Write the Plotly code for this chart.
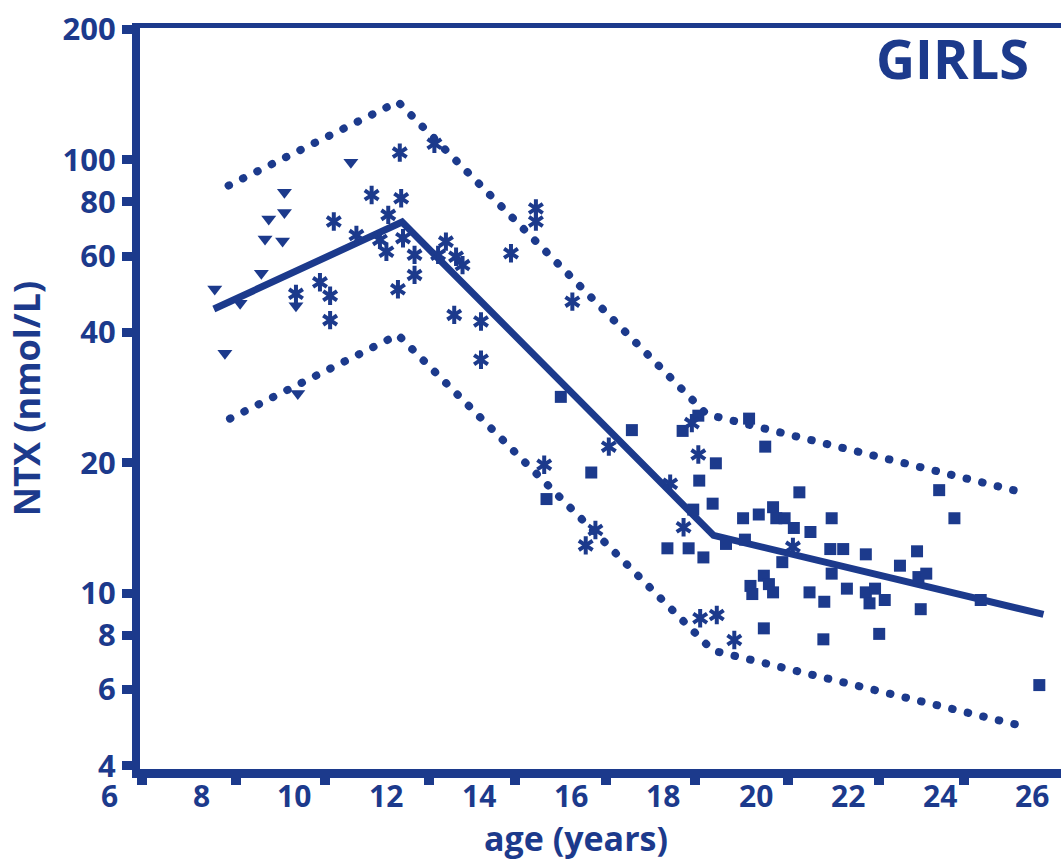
import plotly.graph_objects as go

BLUE = "#1c3a8c"
FONT = "Open Sans"

# ---- NTX by age, three groups of subjects ----
tri_age = [8.28, 8.50, 8.83, 9.29, 9.37, 9.45, 9.75, 9.79, 9.79, 10.04, 10.08, 11.23]
tri_ntx = [50.4, 35.8, 46.7, 54.8, 65.7, 73.1, 65.0, 84.2, 75.6, 46.1, 28.9, 98.8]

ast_age = [10.04, 10.56, 10.78, 10.78, 10.86, 11.35, 11.68, 11.86, 12.00, 12.04,
           12.25, 12.29, 12.32, 12.36, 12.61, 12.61, 13.04, 13.12, 13.29, 13.51,
           13.65, 13.47, 14.05, 14.05, 14.70, 15.24, 15.24, 16.03, 15.42, 16.53,
           16.32, 16.82, 18.15, 18.44, 18.62, 18.76, 18.80, 19.16, 19.54, 20.81]
ast_ntx = [49.1, 52.2, 48.6, 42.7, 72.1, 67.1, 83.0, 65.4, 61.4, 74.7,
           50.3, 104.0, 81.6, 66.0, 60.4, 54.3, 109.0, 60.4, 64.8, 59.8,
           57.2, 43.9, 42.4, 34.6, 60.9, 77.3, 72.1, 47.1, 19.8, 14.0,
           12.9, 21.8, 17.9, 14.2, 24.7, 20.9, 8.76, 8.91, 7.80, 12.8]

sq_age = [15.47, 15.78, 16.44, 17.32, 18.09, 18.42, 18.55, 18.65, 18.76, 18.78,
          18.87, 19.07, 19.14, 19.36, 19.73, 19.77, 19.86, 19.89, 19.93, 20.07,
          20.18, 20.18, 20.21, 20.29, 20.38, 20.38, 20.45, 20.58, 20.63, 20.83,
          20.95, 21.17, 21.19, 21.47, 21.49, 21.62, 21.65, 21.65, 21.90, 21.98,
          22.39, 22.39, 22.47, 22.59, 22.68, 22.80, 23.13, 23.50, 23.53, 23.58,
          23.70, 23.98, 24.31, 24.88, 26.15]
sq_ntx = [16.5, 28.4, 19.0, 23.8, 12.7, 23.7, 12.7, 15.6, 25.7, 18.2,
          12.1, 16.1, 19.95, 13.0, 14.9, 13.3, 25.3, 10.4, 9.96, 15.2,
          10.98, 8.30, 21.8, 10.5, 15.8, 10.05, 14.9, 11.8, 14.9, 14.15,
          17.1, 10.05, 13.85, 7.83, 9.56, 12.65, 14.9, 11.1, 12.65, 10.25,
          12.3, 10.05, 9.48, 10.25, 8.06, 9.65, 11.58, 12.5, 10.9, 9.19,
          11.1, 17.3, 14.9, 9.65, 6.14]

# fitted mean curve and reference limits
fit_age = [8.26, 12.34, 19.09, 26.24]
fit_ntx = [45.3, 71.9, 13.6, 8.94]
upper_age = [8.58, 12.25, 18.94, 25.78]
upper_ntx = [87.3, 136.3, 25.9, 17.1]
lower_age = [8.61, 12.25, 19.07, 25.78]
lower_ntx = [25.3, 39.5, 7.38, 4.94]

# axis ticks and labels
y_tick_vals = [4, 6, 8, 10, 20, 40, 60, 80, 100, 200]
x_label_vals = [6, 8, 10, 12, 14, 16, 18, 20, 22, 24, 26]
x_tick_marks = [6.70, 8.74, 10.68, 12.93, 14.79, 16.76, 18.68, 20.70, 22.68, 24.52]

X_RANGE = [6.66, 26.62]
W, H = 1061, 861
M_L, M_R, M_T, M_B = 140, 0, 28, 92
plot_h = H - M_T - M_B
plot_w = W - M_L - M_R


def x_paper(age):
    """Position of an age value as a fraction of the plotting area width."""
    return (age - X_RANGE[0]) / (X_RANGE[1] - X_RANGE[0])


def y_paper_px(py):
    """Vertical pixel position (from figure top) as a plot-area fraction."""
    return 1 - (py - M_T) / plot_h


fig = go.Figure()

dotted = dict(color=BLUE, width=8, dash="0.5px,15.5px")
fig.add_trace(go.Scatter(x=upper_age, y=upper_ntx, mode="lines", line=dotted,
                         hoverinfo="skip"))
fig.add_trace(go.Scatter(x=lower_age, y=lower_ntx, mode="lines", line=dotted,
                         hoverinfo="skip"))
fig.add_trace(go.Scatter(x=fit_age, y=fit_ntx, mode="lines",
                         line=dict(color=BLUE, width=7), hoverinfo="skip"))

fig.add_trace(go.Scatter(x=tri_age, y=tri_ntx, mode="markers",
                         marker=dict(symbol="triangle-down", size=13, color=BLUE,
                                     line=dict(width=0))))
fig.add_trace(go.Scatter(x=sq_age, y=sq_ntx, mode="markers",
                         marker=dict(symbol="square", size=12, color=BLUE,
                                     line=dict(width=0))))
# six-armed asterisk built from an up and a down "y" glyph
for sym in ("y-up-open", "y-down-open"):
    fig.add_trace(go.Scatter(x=ast_age, y=ast_ntx, mode="markers",
                             marker=dict(symbol=sym, size=11.5, color=BLUE,
                                         line=dict(color=BLUE, width=4))))

tick_font = dict(family=FONT, size=31, color=BLUE, weight="bold")
x_label_font = dict(family=FONT, size=30, color=BLUE, weight="bold")

annotations = []
for v in x_label_vals:
    annotations.append(dict(x=x_paper(v), xref="paper", y=y_paper_px(795), yref="paper",
                            text=str(v), showarrow=False, xanchor="center",
                            yanchor="middle", font=x_label_font))
annotations.append(dict(x=x_paper(16.1), xref="paper", y=y_paper_px(838), yref="paper",
                        text="age (years)", showarrow=False, xanchor="center",
                        yanchor="middle",
                        font=dict(family=FONT, size=34, color=BLUE, weight="bold")))
annotations.append(dict(x=(952 - M_L) / plot_w, xref="paper",
                        y=y_paper_px(58), yref="paper",
                        text="GIRLS", showarrow=False, xanchor="center",
                        yanchor="middle",
                        font=dict(family=FONT, size=54, color=BLUE, weight="bold")))

fig.update_layout(
    width=W, height=H,
    margin=dict(l=M_L, r=M_R, t=M_T, b=M_B, pad=0),
    paper_bgcolor="white", plot_bgcolor="white",
    showlegend=False,
    xaxis=dict(range=X_RANGE, showgrid=False, zeroline=False,
               showline=True, linecolor=BLUE, linewidth=9,
               ticks="outside", tickvals=x_tick_marks, ticklen=7, tickwidth=10,
               tickcolor=BLUE, showticklabels=False),
    yaxis=dict(type="log", range=[0.5945, 2.3046], showgrid=False, zeroline=False,
               showline=True, linecolor=BLUE, linewidth=8,
               ticks="outside", tickvals=y_tick_vals,
               ticktext=[str(v) for v in y_tick_vals],
               ticklen=10, tickwidth=9, tickcolor=BLUE, tickfont=tick_font,
               title=dict(text="NTX (nmol/L)", standoff=14,
                          font=dict(family=FONT, size=36, color=BLUE, weight="bold"))),
    annotations=annotations,
    shapes=[dict(type="line", xref="paper", yref="paper",
                 x0=-8 / plot_w, x1=1, y0=1 + 2.5 / plot_h, y1=1 + 2.5 / plot_h,
                 line=dict(color=BLUE, width=5))],
)

round_caps = """
var gd = document.getElementById('{plot_id}');
function roundCaps() {
  gd.querySelectorAll('path.js-line').forEach(function (p) {
    var d = p.style.strokeDasharray;
    if (d && d !== 'none') { p.style.strokeLinecap = 'round'; }
  });
}
roundCaps();
gd.on('plotly_afterplot', roundCaps);
"""

fig.write_html("out.html", post_script=round_caps)
